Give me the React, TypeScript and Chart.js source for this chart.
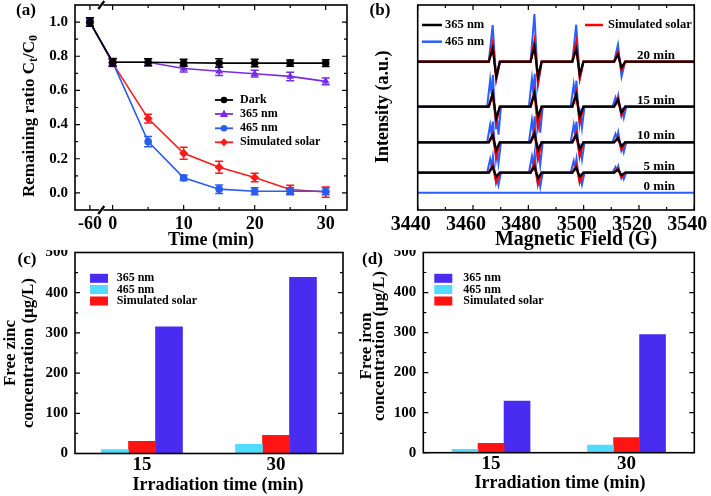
import React, { useEffect, useRef } from 'react';
import { Chart, registerables } from 'chart.js';
Chart.register(...registerables);

const FONT = "'Liberation Serif', 'Times New Roman', Times, serif";
const bf = (size: number) => `bold ${size}px ${FONT}`;

// ---------------- (a) photodegradation ----------------
const timeMinutes = [-60, 0, 5, 10, 15, 20, 25, 30];
const timeTickValues = [-60, 0, 10, 20, 30];
const timeMinorTicks = [5, 15, 25];
const darkRatio = [1.0, 0.765, 0.765, 0.762, 0.76, 0.76, 0.76, 0.76];
const darkError = [0.025, 0.022, 0.02, 0.02, 0.025, 0.022, 0.018, 0.02];
const nm365Ratio = [1.0, 0.765, 0.765, 0.728, 0.712, 0.698, 0.682, 0.653];
const nm365Error = [0.02, 0.02, 0.02, 0.02, 0.025, 0.02, 0.025, 0.02];
const nm465Ratio = [1.0, 0.765, 0.3, 0.088, 0.022, 0.01, 0.01, 0.01];
const nm465Error = [0.02, 0.02, 0.03, 0.015, 0.025, 0.02, 0.02, 0.02];
const solarRatio = [1.0, 0.76, 0.435, 0.232, 0.15, 0.09, 0.02, 0.005];
const solarError = [0.025, 0.02, 0.025, 0.035, 0.035, 0.025, 0.025, 0.03];
const ratioTicks = [0, 0.2, 0.4, 0.6, 0.8, 1.0];
const ratioMinorTicks = [0.1, 0.3, 0.5, 0.7, 0.9];
const breakTime = -60;
const breakSlot = -3.2; // axis position of the -60 min point (broken axis)

// ---------------- (b) EPR spectra ----------------
const fieldTicks = [3440, 3460, 3480, 3500, 3520, 3540];
const eprCenters = [3467.7, 3482.8, 3497.9, 3513.0];
const eprTimeLabels = ['20 min', '15 min', '10 min', '5 min', '0 min'];
const eprBaselines = [148.3, 103.3, 67.7, 37.3, 17.3];
// [up, down] amplitude of each of the 4 lines, rows = 20, 15, 10, 5 min
const amp365 = [
  [[13, 15], [15, 15], [12.5, 13], [7, 6]],
  [[13, 11.7], [13.3, 10], [12, 10], [7, 6]],
  [[7, 8], [9, 7.7], [7, 7], [4, 4]],
  [[6, 4], [6, 5.6], [5, 4], [3, 2.5]],
];
const ampSolar = [
  [[18, 16.6], [20, 20], [19, 16], [9, 8]],
  [[13, 15], [15, 20], [14, 15], [8, 8]],
  [[8.3, 14], [10.7, 16], [9, 13], [5, 7]],
  [[7.7, 9], [9.4, 10.6], [7.5, 9], [4, 4.5]],
];
const amp465 = [
  [[36.7, 18], [47.7, 23], [37, 17], [17, 15]],
  [[31.7, 28], [33, 26], [26, 21], [11, 11]],
  [[20.7, 21], [26, 22.7], [20.7, 17], [10, 10]],
  [[16, 12.3], [19.3, 14], [14, 11.7], [6.7, 6.5]],
];

// ---------------- (c)/(d) bars ----------------
const barCategories = ['15', '30'];
const zinc365 = [315, 438];
const zinc465 = [10, 23];
const zincSolar = [30, 45];
const iron365 = [129, 295];
const iron465 = [8.5, 19];
const ironSolar = [23.5, 38];
const concTicks = [0, 100, 200, 300, 400, 500];
const concMinorTicks = [50, 150, 250, 350, 450];

const C_DARK = '#000000';
const C_365 = '#7a2be6';
const C_465 = '#2a5cf2';
const C_SOLAR = '#ff1a1a';
const C_EPR_BLUE = '#2a5fff';
const C_EPR_RED = '#ff0000';
const C_PURPLE = '#4a2cf0';
const C_CYAN = '#4fdcff';
const C_BAR_RED = '#ff1414';

// line-shape templates: [field offset (G), fraction of up(+)/down(-) amplitude]
const derivShape = [[-2, 0], [-0.6, 1], [0.7, -1], [2, 0]];
const splitShape = [[-2.6, 0], [-1.5, 0.85], [-1.0, 0.4], [-0.5, 1], [0.1, 0], [0.6, -0.8], [1.0, -0.4], [1.5, -1], [2.4, 0]];

function buildSpectrum(base: number, amps: number[][], shape: number[][]) {
  const pts: { x: number; y: number }[] = [{ x: fieldTicks[0], y: base }];
  eprCenters.forEach((c, i) => {
    const [up, down] = amps[i];
    shape.forEach(([dx, k]) => {
      pts.push({ x: c + dx, y: base + (k >= 0 ? k * up : k * down) });
    });
  });
  pts.push({ x: fieldTicks[fieldTicks.length - 1], y: base });
  return pts;
}

function txt(ctx: CanvasRenderingContext2D, s: string, x: number, y: number, size: number, align: CanvasTextAlign = 'left', rot = 0, color = '#000') {
  ctx.save();
  ctx.translate(x, y);
  if (rot) ctx.rotate(rot);
  ctx.font = bf(size);
  ctx.fillStyle = color;
  ctx.textAlign = align;
  ctx.textBaseline = 'middle';
  ctx.fillText(s, 0, 0);
  ctx.restore();
}

function richRotated(ctx: CanvasRenderingContext2D, parts: { t: string; sub?: boolean }[], cx: number, cy: number, size: number) {
  ctx.save();
  ctx.translate(cx, cy);
  ctx.rotate(-Math.PI / 2);
  const main = bf(size);
  const sub = bf(Math.round(size * 0.68));
  let w = 0;
  parts.forEach((p) => { ctx.font = p.sub ? sub : main; w += ctx.measureText(p.t).width; });
  let x = -w / 2;
  ctx.textAlign = 'left';
  ctx.textBaseline = 'alphabetic';
  ctx.fillStyle = '#000';
  const by = size * 0.33;
  parts.forEach((p) => {
    ctx.font = p.sub ? sub : main;
    ctx.fillText(p.t, x, by + (p.sub ? size * 0.22 : 0));
    x += ctx.measureText(p.t).width;
  });
  ctx.restore();
}

function drawFrame(ctx: CanvasRenderingContext2D, ca: any, lw = 1.6) {
  ctx.save();
  ctx.strokeStyle = '#000';
  ctx.lineWidth = lw;
  ctx.strokeRect(ca.left, ca.top, ca.right - ca.left, ca.bottom - ca.top);
  ctx.restore();
}

function drawTicks(ctx: CanvasRenderingContext2D, chart: any, xs: [number, number][], ys: [number, number][]) {
  const ca = chart.chartArea;
  ctx.save();
  ctx.strokeStyle = '#000';
  ctx.lineWidth = 1.2;
  ctx.beginPath();
  xs.forEach(([v, len]) => {
    const px = chart.scales.x.getPixelForValue(v);
    ctx.moveTo(px, ca.bottom); ctx.lineTo(px, ca.bottom - len);
    ctx.moveTo(px, ca.top); ctx.lineTo(px, ca.top + len);
  });
  ys.forEach(([v, len]) => {
    const py = chart.scales.y.getPixelForValue(v);
    ctx.moveTo(ca.left, py); ctx.lineTo(ca.left + len, py);
    ctx.moveTo(ca.right, py); ctx.lineTo(ca.right - len, py);
  });
  ctx.stroke();
  ctx.restore();
}

function marker(ctx: CanvasRenderingContext2D, style: string, x: number, y: number, r: number, color: string) {
  ctx.save();
  ctx.fillStyle = color;
  ctx.beginPath();
  if (style === 'circle') ctx.arc(x, y, r, 0, Math.PI * 2);
  else if (style === 'triangle') { ctx.moveTo(x, y - r * 1.1); ctx.lineTo(x + r, y + r * 0.75); ctx.lineTo(x - r, y + r * 0.75); ctx.closePath(); }
  else { ctx.moveTo(x, y - r); ctx.lineTo(x + r, y); ctx.lineTo(x, y + r); ctx.lineTo(x - r, y); ctx.closePath(); }
  ctx.fill();
  ctx.restore();
}

const noAxisDeco = { grid: { display: false, drawTicks: false }, border: { display: false } };

function buildA(canvas: HTMLCanvasElement) {
  const toAxis = (t: number) => (t === breakTime ? breakSlot : t);
  const series = [
    { label: 'Dark', v: darkRatio, e: darkError, c: C_DARK, s: 'circle' },
    { label: '365 nm', v: nm365Ratio, e: nm365Error, c: C_365, s: 'triangle' },
    { label: '465 nm', v: nm465Ratio, e: nm465Error, c: C_465, s: 'circle' },
    { label: 'Simulated solar', v: solarRatio, e: solarError, c: C_SOLAR, s: 'rectRot' },
  ];
  return new Chart(canvas, {
    type: 'line',
    data: {
      datasets: series.map((sr) => ({
        label: sr.label,
        data: timeMinutes.map((t, i) => ({ x: toAxis(t), y: sr.v[i] })),
        borderColor: sr.c,
        backgroundColor: sr.c,
        borderWidth: 1.6,
        pointStyle: sr.s as any,
        pointRadius: sr.s === 'circle' ? 3.8 : 4.5,
        pointBorderWidth: 0,
        tension: 0,
        errors: sr.e,
      })) as any,
    },
    options: {
      responsive: false, animation: false, events: [],
      layout: { padding: { left: 0, right: 8, top: 5, bottom: 0 } },
      plugins: { legend: { display: false }, tooltip: { enabled: false } },
      scales: {
        x: {
          type: 'linear', min: -5.3, max: 33, ...noAxisDeco,
          afterBuildTicks: (s: any) => { s.ticks = timeTickValues.map((t) => ({ value: toAxis(t) })); },
          ticks: { autoSkip: false, maxRotation: 0, color: '#000', padding: 4, font: { family: FONT, size: 18, weight: 'bold' },
            callback: (v: any) => (Math.abs(Number(v) - breakSlot) < 1e-6 ? String(breakTime) : String(v)) },
          afterFit: (s: any) => { s.height = 40; s.paddingLeft = 0; s.paddingRight = 0; },
        },
        y: {
          min: -0.1, max: 1.1, ...noAxisDeco,
          afterBuildTicks: (s: any) => { s.ticks = ratioTicks.map((v) => ({ value: v })); },
          ticks: { color: '#000', padding: 7, font: { family: FONT, size: 15, weight: 'bold' }, callback: (v: any) => Number(v).toFixed(1) },
          afterFit: (s: any) => { s.width = 75; s.paddingTop = 0; s.paddingBottom = 0; },
        },
      },
    } as any,
    plugins: [{
      id: 'decoA',
      afterDatasetDraw(chart: any, args: any) {
        const ds = chart.data.datasets[args.index];
        const ctx = chart.ctx;
        const xs = chart.scales.x, ys = chart.scales.y;
        ctx.save();
        ctx.strokeStyle = ds.borderColor;
        ctx.lineWidth = 1.5;
        ctx.beginPath();
        ds.data.forEach((p: any, i: number) => {
          const px = xs.getPixelForValue(p.x);
          const y1 = ys.getPixelForValue(p.y - ds.errors[i]);
          const y2 = ys.getPixelForValue(p.y + ds.errors[i]);
          ctx.moveTo(px, y1); ctx.lineTo(px, y2);
          ctx.moveTo(px - 4, y1); ctx.lineTo(px + 4, y1);
          ctx.moveTo(px - 4, y2); ctx.lineTo(px + 4, y2);
        });
        ctx.stroke();
        ctx.restore();
      },
      afterDraw(chart: any) {
        const ctx = chart.ctx;
        const ca = chart.chartArea;
        drawFrame(ctx, ca);
        drawTicks(ctx, chart,
          [...timeTickValues.map((t) => [toAxis(t), 5] as [number, number]), ...timeMinorTicks.map((t) => [t, 3] as [number, number])],
          [...ratioTicks.map((v) => [v, 5] as [number, number]), ...ratioMinorTicks.map((v) => [v, 3] as [number, number])]);
        // axis break marks
        const bx = chart.scales.x.getPixelForValue((breakSlot + 0) / 2);
        [ca.top, ca.bottom].forEach((by: number) => {
          ctx.save();
          ctx.fillStyle = '#fff';
          ctx.fillRect(bx - 2, by - 2, 4, 4);
          ctx.strokeStyle = '#000';
          ctx.lineWidth = 2.2;
          ctx.beginPath();
          ctx.moveTo(bx - 3, by + 4); ctx.lineTo(bx + 3, by - 4);
          ctx.stroke();
          ctx.restore();
        });
        txt(ctx, '(a)', 26, 11, 17, 'center');
        richRotated(ctx, [{ t: 'Remaining ratio C' }, { t: 't', sub: true }, { t: '/C' }, { t: '0', sub: true }], 28, 116, 17);
        txt(ctx, 'Time (min)', 211, 240, 18, 'center');
        // legend
        const rows = [100, 114, 128.3, 142.3];
        series.forEach((sr, i) => {
          ctx.save();
          ctx.strokeStyle = sr.c; ctx.lineWidth = 1.8;
          ctx.beginPath(); ctx.moveTo(215, rows[i]); ctx.lineTo(233, rows[i]); ctx.stroke();
          ctx.restore();
          marker(ctx, sr.s, 224, rows[i], sr.s === 'circle' ? 3.3 : 4, sr.c);
          txt(ctx, sr.label, 240, rows[i], 12, 'left');
        });
      },
    }],
  });
}

function buildB(canvas: HTMLCanvasElement) {
  const datasets: any[] = [];
  const groups = [
    { amps: amp365, c: C_DARK, w: 2.2 },
    { amps: ampSolar, c: C_EPR_RED, w: 2.4 },
    { amps: amp465, c: C_EPR_BLUE, w: 2 },
  ];
  groups.forEach((g, gi) => {
    g.amps.forEach((amps, ti) => {
      const shape = gi === 2 && ti > 0 ? splitShape : derivShape;
      datasets.push({ data: buildSpectrum(eprBaselines[ti], amps, shape), borderColor: g.c, borderWidth: g.w, pointRadius: 0, tension: 0 });
    });
  });
  datasets.push({
    data: [{ x: fieldTicks[0], y: eprBaselines[4] }, { x: fieldTicks[fieldTicks.length - 1], y: eprBaselines[4] }],
    borderColor: C_EPR_BLUE, borderWidth: 2, pointRadius: 0,
  });
  return new Chart(canvas, {
    type: 'line',
    data: { datasets },
    options: {
      responsive: false, animation: false, events: [],
      layout: { padding: { left: 0, right: 16.7, top: 5, bottom: 0 } },
      plugins: { legend: { display: false }, tooltip: { enabled: false } },
      scales: {
        x: {
          type: 'linear', min: fieldTicks[0], max: fieldTicks[fieldTicks.length - 1], ...noAxisDeco,
          afterBuildTicks: (s: any) => { s.ticks = fieldTicks.map((v) => ({ value: v })); },
          ticks: { autoSkip: false, maxRotation: 0, color: '#000', padding: 3, labelOffset: -7, font: { family: FONT, size: 20, weight: 'bold' }, callback: (v: any) => String(v) },
          afterFit: (s: any) => { s.height = 40; s.paddingLeft = 0; s.paddingRight = 0; },
        },
        y: {
          min: 0, max: 205, ...noAxisDeco,
          ticks: { display: false },
          afterFit: (s: any) => { s.width = 62.7; s.paddingTop = 0; s.paddingBottom = 0; },
        },
      },
    } as any,
    plugins: [{
      id: 'decoB',
      afterDraw(chart: any) {
        const ctx = chart.ctx;
        drawFrame(ctx, chart.chartArea);
        const minor: [number, number][] = [];
        for (let i = 0; i < fieldTicks.length - 1; i++) minor.push([(fieldTicks[i] + fieldTicks[i + 1]) / 2, 3]);
        drawTicks(ctx, chart, [...fieldTicks.map((v) => [v, 5] as [number, number]), ...minor], []);
        txt(ctx, '(b)', 25, 11, 17, 'center');
        txt(ctx, 'Intensity (a.u.)', 28.3, 106.7, 18, 'center', -Math.PI / 2);
        txt(ctx, 'Magnetic Field (G)', 221, 240, 20, 'center');
        // legend
        const leg = [
          { x1: 67, x2: 87, y: 25, c: C_DARK, t: '365 nm', tx: 90 },
          { x1: 67, x2: 87, y: 41.7, c: C_EPR_BLUE, t: '465 nm', tx: 90 },
          { x1: 230, x2: 248, y: 25, c: C_EPR_RED, t: 'Simulated solar', tx: 253 },
        ];
        leg.forEach((l) => {
          ctx.save(); ctx.strokeStyle = l.c; ctx.lineWidth = 2.5;
          ctx.beginPath(); ctx.moveTo(l.x1, l.y); ctx.lineTo(l.x2, l.y); ctx.stroke(); ctx.restore();
          txt(ctx, l.t, l.tx, l.y, 12.5, 'left');
        });
        const ys = chart.scales.y;
        eprTimeLabels.forEach((lab, i) => {
          txt(ctx, lab, 320, ys.getPixelForValue(eprBaselines[i]) - 6.5, 13, 'right');
        });
      },
    }],
  });
}

function buildBar(canvas: HTMLCanvasElement, cfg: any) {
  return new Chart(canvas, {
    type: 'bar',
    data: {
      labels: barCategories,
      datasets: [
        { label: '465 nm', data: cfg.v465, backgroundColor: C_CYAN, barThickness: cfg.bw },
        { label: 'Simulated solar', data: cfg.vSolar, backgroundColor: C_BAR_RED, barThickness: cfg.bw },
        { label: '365 nm', data: cfg.v365, backgroundColor: C_PURPLE, barThickness: cfg.bw },
      ],
    },
    options: {
      responsive: false, animation: false, events: [],
      layout: { padding: { left: 0, right: cfg.padRight, top: 2.5, bottom: 0 } },
      plugins: { legend: { display: false }, tooltip: { enabled: false } },
      scales: {
        x: {
          ...noAxisDeco,
          ticks: { color: '#000', padding: 0, font: { family: FONT, size: 19, weight: 'bold' } },
          afterFit: (s: any) => { s.height = cfg.xH; s.paddingLeft = 0; s.paddingRight = 0; },
        },
        y: {
          min: 0, max: 500, ...noAxisDeco,
          afterBuildTicks: (s: any) => { s.ticks = concTicks.map((v) => ({ value: v })); },
          ticks: { color: '#000', padding: 7, font: { family: FONT, size: 15, weight: 'bold' } },
          afterFit: (s: any) => { s.width = cfg.left; s.paddingTop = 0; s.paddingBottom = 0; },
        },
      },
    } as any,
    plugins: [{
      id: 'decoBar',
      afterDraw(chart: any) {
        const ctx = chart.ctx;
        drawFrame(ctx, chart.chartArea);
        drawTicks(ctx, chart, [], [...concTicks.map((v) => [v, 5] as [number, number]), ...concMinorTicks.map((v) => [v, 3] as [number, number])]);
        txt(ctx, cfg.tag, cfg.tagX, 10, 17, 'center');
        txt(ctx, cfg.title1, cfg.t1x, cfg.ty, 17, 'center', -Math.PI / 2);
        txt(ctx, 'concentration (\u03bcg/L)', cfg.t2x, cfg.ty, 17, 'center', -Math.PI / 2);
        txt(ctx, 'Irradiation time (min)', cfg.xtx, cfg.xty, 18, 'center');
        const leg = [
          { c: C_PURPLE, t: '365 nm' },
          { c: C_CYAN, t: '465 nm' },
          { c: C_BAR_RED, t: 'Simulated solar' },
        ];
        const rows = [28.3, 39.5, 51];
        leg.forEach((l, i) => {
          ctx.fillStyle = l.c;
          ctx.fillRect(cfg.legX, rows[i] - 4.5, 18, 9);
          txt(ctx, l.t, cfg.legTX, rows[i], 12, 'left');
        });
      },
    }],
  });
}

export default function App() {
  const aRef = useRef<HTMLCanvasElement>(null);
  const bRef = useRef<HTMLCanvasElement>(null);
  const cRef = useRef<HTMLCanvasElement>(null);
  const dRef = useRef<HTMLCanvasElement>(null);
  useEffect(() => {
    const charts = [
      buildA(aRef.current!),
      buildB(bRef.current!),
      buildBar(cRef.current!, {
        v465: zinc465, vSolar: zincSolar, v365: zinc365, bw: 27, padRight: 12, xH: 42.5, left: 75,
        tag: '(c)', tagX: 27, title1: 'Free zinc', t1x: 11, t2x: 29, ty: 103, xtx: 218, xty: 235, legX: 90, legTX: 116.7,
      }),
      buildBar(dRef.current!, {
        v465: iron465, vSolar: ironSolar, v365: iron365, bw: 26, padRight: 16.7, xH: 43.3, left: 68.3,
        tag: '(d)', tagX: 17.5, title1: 'Free iron', t1x: 11.7, t2x: 25, ty: 96, xtx: 205, xty: 233.3, legX: 79.3, legTX: 108.3,
      }),
    ];
    return () => charts.forEach((c) => c.destroy());
  }, []);
  const pos = (l: number, t: number): React.CSSProperties => ({ position: 'absolute', left: l, top: t });
  return (
    <div style={{ position: 'absolute', left: 0, top: 0, width: 711, height: 496, background: '#fff', overflow: 'hidden' }}>
      <canvas ref={aRef} width={355} height={250} style={pos(0, 0)} />
      <canvas ref={bRef} width={356} height={250} style={pos(355, 0)} />
      <canvas ref={cRef} width={355} height={246} style={pos(0, 250)} />
      <canvas ref={dRef} width={356} height={246} style={pos(355, 250)} />
    </div>
  );
}
